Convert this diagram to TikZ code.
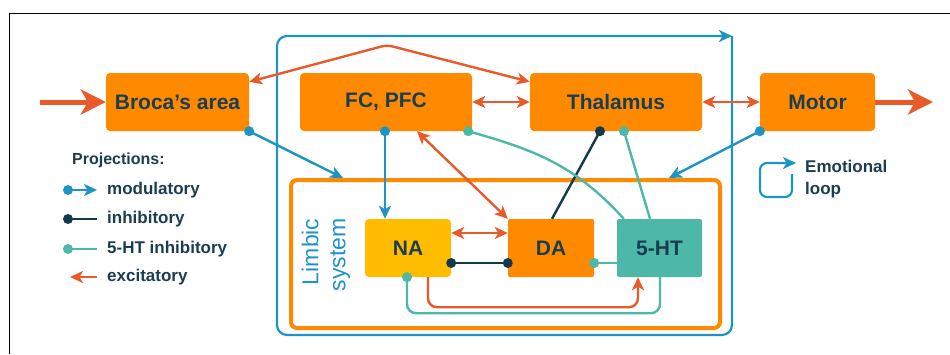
\documentclass[tikz,border=0pt]{standalone}
\usepackage{fontspec}
\setmainfont{Liberation Sans}
\usetikzlibrary{arrows.meta,calc}
\definecolor{boxor}{HTML}{FF8A00}
\definecolor{gold}{HTML}{FFBC00}
\definecolor{teal5}{HTML}{4DB8A8}
\definecolor{modblue}{HTML}{1E93C6}
\definecolor{excor}{HTML}{E85A2A}
\definecolor{navy}{HTML}{14394D}
\definecolor{txt}{HTML}{1B3D52}
\tikzset{
  box/.style={rectangle, rounded corners=4pt, fill=boxor, inner sep=0pt,
    minimum height=58pt, text=txt, font=\bfseries\fontsize{21}{24}\selectfont},
  modline/.style={draw=modblue, line width=2.4pt, -{Stealth[length=13pt,width=12pt,inset=3.5pt]}},
  excline/.style={draw=excor, line width=2.4pt, {Stealth[length=13pt,width=12pt,inset=3.5pt]}-{Stealth[length=13pt,width=12pt,inset=3.5pt]}},
  excone/.style={draw=excor, line width=2.4pt, -{Stealth[length=13pt,width=12pt,inset=3.5pt]}},
  inhline/.style={draw=navy, line width=2.4pt},
  htline/.style={draw=teal5, line width=2.4pt},
  bigarrow/.style={draw=excor, line width=5pt, -{Stealth[length=25pt,width=25pt,inset=7pt]}},
  legtext/.style={anchor=west, text=txt, font=\bfseries\fontsize{17}{22}\selectfont, inner sep=0pt},
}
\begin{document}
\begin{tikzpicture}[x=1pt,y=-1pt]
\useasboundingbox (0,0) rectangle (950,354);
% frame
\draw[line width=1.5pt, black] (9.5,354) -- (9.5,13.5) -- (950,13.5);

% emotional loop (big)
\draw[draw=modblue, line width=2.2pt, rounded corners=10pt, -{Stealth[length=13pt,width=12pt,inset=3.5pt]}]
  (732,36) -- (732,335) -- (277,335) -- (277,36) -- (732,36);

% limbic system box
\node[draw=boxor, line width=4pt, rounded corners=6pt, minimum width=429pt, minimum height=148pt, inner sep=0pt] (limbic) at (505.5,254) {};
\node[rotate=90, align=right, text=modblue, font=\fontsize{23}{27}\selectfont, inner sep=0pt] (limbtxt) at (326,255) {Limbic\\system};

% boxes
\node[box, minimum width=143pt] (broca) at (177.5,102) {Broca's area};
\node[box, minimum width=172pt] (fc) at (386,102) {FC, PFC};
\node[box, minimum width=172pt] (thal) at (616,102) {Thalamus};
\node[box, minimum width=115pt] (motor) at (817.5,102) {Motor};
\node[box, minimum width=86pt, fill=gold] (na) at (408,248) {NA};
\node[box, minimum width=86pt, rounded corners=2pt] (da) at (551,248) {DA};
\node[box, minimum width=85pt, fill=teal5, rounded corners=2pt] (ht) at (659.5,248) {5-HT};

% in / out arrows
\coordinate (inp) at (40,102);
\coordinate (outp) at (933,102);
\draw[bigarrow] (inp) -- (broca.west);
\draw[bigarrow] (motor.east) -- (outp);

% top arch
\coordinate (peak) at (387,45);
\draw[excline, rounded corners=6pt] ([yshift=-9pt]broca.north east) -- (peak) -- ([yshift=-9pt]thal.north west);

% horizontal excitatory
\draw[excline] (fc.east) -- (thal.west);
\draw[excline] (thal.east) -- (motor.west);
\draw[excline] ([xshift=31pt]fc.south) -- (da.north west);
\draw[excline] ([yshift=15pt]na.east) -- ([yshift=15pt]da.west);

% modulatory
\draw[modline] (broca.south east) -- ([xshift=54pt]limbic.north west);
\fill[modblue] (broca.south east) circle (5pt);
\draw[modline] ([xshift=-1pt]fc.south) -- ([xshift=-1pt]fc.south |- na.north);
\fill[modblue] ([xshift=-1pt]fc.south) circle (5pt);
\draw[modline] (motor.south west) -- ([xshift=-53pt]limbic.north east);
\fill[modblue] (motor.south west) circle (5pt);

% inhibitory
\draw[inhline] ([xshift=-16pt]thal.south) -- ([xshift=1pt]da.north);
\fill[navy] ([xshift=-16pt]thal.south) circle (5pt);
\draw[inhline] ([yshift=-15pt]na.east) -- ([yshift=-15pt]da.west);
\fill[navy] ([yshift=-15pt]na.east) circle (5pt);
\fill[navy] ([yshift=-15pt]da.west) circle (5pt);

% 5-HT inhibitory
\draw[htline] ([xshift=8pt]thal.south) -- ([xshift=-9.5pt]ht.north);
\fill[teal5] ([xshift=8pt]thal.south) circle (5pt);
\draw[htline] ([xshift=-4pt]fc.south east) .. controls (535,150) and (575,165) .. ([xshift=7pt]ht.north west);
\fill[teal5] ([xshift=-4pt]fc.south east) circle (5pt);
\draw[htline] ([yshift=-15pt]da.east) -- ([yshift=-15pt]ht.west);
\fill[teal5] ([yshift=-15pt]da.east) circle (5pt);
\draw[htline, rounded corners=9pt] ([xshift=-1pt]na.south) -- ++(0,36) -| ([xshift=0.5pt]ht.south);
\fill[teal5] ([xshift=-1pt]na.south) circle (5pt);

% NA -> 5-HT excitatory
\draw[excone, rounded corners=9pt] ([xshift=20pt]na.south) -- ++(0,30) -| ([xshift=-21.5pt]ht.south);

% legend
\node[anchor=west, text=txt, font=\bfseries\fontsize{16}{20}\selectfont, inner sep=0pt] (projt) at (72,160) {Projections:};
\coordinate (m1) at (68,190); \coordinate (m2) at (97,190);
\draw[modline] (m1) -- (m2); \fill[modblue] (m1) circle (5pt);
\node[legtext] (modt) at (107,190) {modulatory};
\coordinate (i1) at (68,219); \coordinate (i2) at (97,219);
\draw[inhline] (i1) -- (i2); \fill[navy] (i1) circle (5pt);
\node[legtext] (inht) at (107,219) {inhibitory};
\coordinate (h1) at (68,249); \coordinate (h2) at (97,249);
\draw[htline] (h1) -- (h2); \fill[teal5] (h1) circle (5pt);
\node[legtext] (htt) at (107,249) {5-HT inhibitory};
\coordinate (e1) at (97,277); \coordinate (e2) at (70,277);
\draw[excone] (e1) -- (e2);
\node[legtext] (exct) at (107,277) {excitatory};

% emotional loop legend
\coordinate (l1) at (792,174); \coordinate (l2) at (796,163);
\draw[draw=modblue, line width=2.2pt, rounded corners=7pt, -{Stealth[length=13pt,width=12pt,inset=3.5pt]}]
  (l1) -- (792,197) -- (760,197) -- (760,163) -- (l2);
\node[legtext, align=left] (emot) at (805,179) {Emotional\\loop};
\end{tikzpicture}
\end{document}
